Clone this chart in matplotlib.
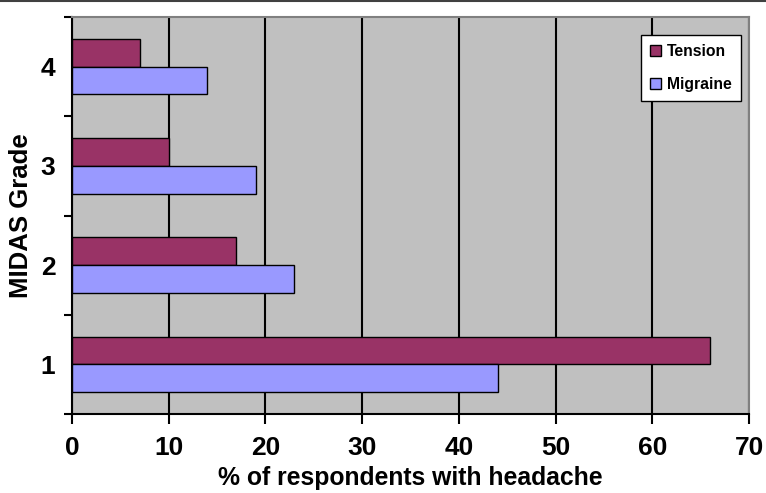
import numpy as np
import matplotlib.pyplot as plt
from matplotlib.lines import Line2D

plt.rcParams['font.family'] = ['Liberation Sans', 'DejaVu Sans']
plt.rcParams['font.weight'] = 'bold'

grades = [1, 2, 3, 4]
tension = [66, 17, 10, 7]
migraine = [44, 23, 19, 14]
xticks = [0, 10, 20, 30, 40, 50, 60, 70]

fig = plt.figure(figsize=(7.66, 4.93), dpi=100)
ax = fig.add_axes([72 / 766, 1 - 414 / 493, 677 / 766, 397 / 493])
ax.set_facecolor('#C0C0C0')

y = np.array(grades, dtype=float)
h = 0.28
ax.barh(y + h / 2, tension, height=h, color='#993366', edgecolor='black',
        linewidth=1, label='Tension', zorder=3)
ax.barh(y - h / 2, migraine, height=h, color='#9999FF', edgecolor='black',
        linewidth=1, label='Migraine', zorder=3)

ax.set_xlim(0, 70)
ax.set_ylim(0.5, 4.5)
ax.set_xticks(xticks)
ax.set_xticklabels([str(v) for v in xticks], fontsize=19, fontweight='bold')
ax.set_yticks(grades)
ax.set_yticklabels([str(g) for g in grades], fontsize=19, fontweight='bold')
ax.set_yticks(np.arange(0.5, 4.6, 1.0), minor=True)
ax.tick_params(axis='y', which='major', length=0, pad=12)
ax.tick_params(axis='y', which='minor', length=6, width=1.5, direction='out')
ax.tick_params(axis='x', which='major', length=7, width=1.5, direction='out', pad=9)

ax.grid(axis='x', color='black', linewidth=1.5, zorder=1)
ax.set_axisbelow(True)

for side in ['top', 'right']:
    ax.spines[side].set_color('#808080')
    ax.spines[side].set_linewidth(1.5)
for side in ['left', 'bottom']:
    ax.spines[side].set_color('black')
    ax.spines[side].set_linewidth(1.5)

ax.set_xlabel('% of respondents with headache', fontsize=17.8, fontweight='bold')
ax.xaxis.set_label_coords(0.5, -0.13)
ax.set_ylabel('MIDAS Grade', fontsize=18.5, fontweight='bold')
ax.yaxis.set_label_coords(-0.058, 0.5)

leg = ax.legend(loc='upper right', bbox_to_anchor=(0.988, 0.955), fontsize=11.3,
                frameon=True, fancybox=False, edgecolor='black', framealpha=1,
                handlelength=0.7, handleheight=0.7, handletextpad=0.35,
                borderpad=0.6, labelspacing=1.1, borderaxespad=0)
leg.get_frame().set_linewidth(1)
for t in leg.get_texts():
    t.set_fontweight('bold')

fig.add_artist(Line2D([0, 1], [0.998, 0.998], color='#404040', linewidth=1.5))

fig.savefig('out.png', dpi=100)
